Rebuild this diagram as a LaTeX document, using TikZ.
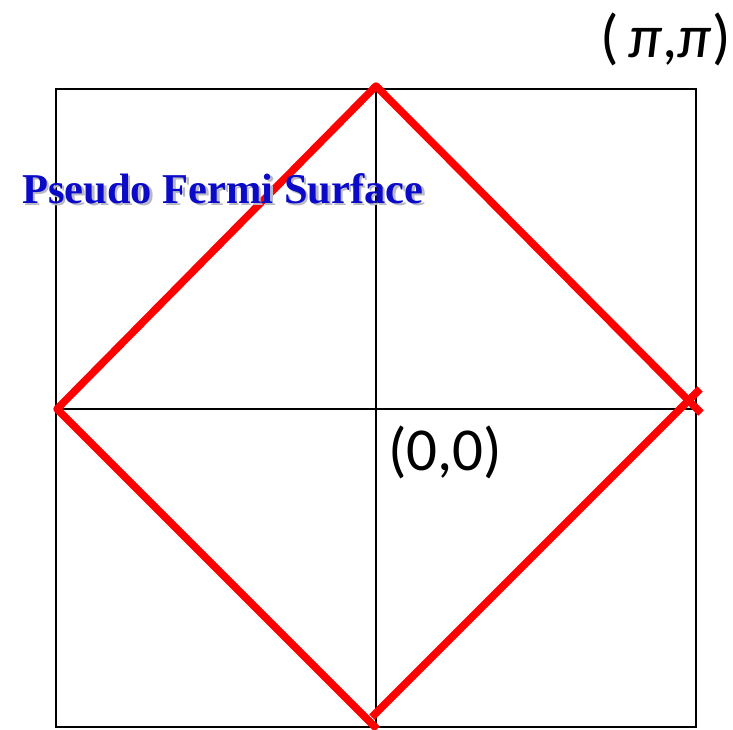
\documentclass[tikz,border=0pt]{standalone}
\usepackage{fontspec}
\setmainfont{Liberation Serif}
\newfontfamily\labelfont{Carlito}
\definecolor{fsblue}{RGB}{10,10,200}
\definecolor{fsred}{RGB}{255,0,0}
\definecolor{fsshadow}{RGB}{185,185,195}
\newcommand{\shadowtext}[1]{\rlap{\hspace{2.5pt}\raisebox{-2.5pt}{\textcolor{fsshadow}{#1}}}\textcolor{fsblue}{#1}}
\begin{document}
\begin{tikzpicture}[x=1pt,y=-1pt,
  axis/.style={black,line width=1.4pt},
  fermi/.style={fsred,line width=7.5pt,line join=round},
  coordlabel/.style={inner sep=0pt,anchor=base west,font=\labelfont\fontsize{61}{61}\selectfont},
  titletext/.style={inner sep=0pt,anchor=base west,font=\bfseries\fontsize{42.5}{42.5}\selectfont}]
\useasboundingbox (0,0) rectangle (733,729);
% square and axes
\coordinate (tl) at (56,89);
\coordinate (br) at (696,727);
\coordinate (xl) at (56,409);
\coordinate (xr) at (696,409);
\coordinate (yt) at (376,89);
\coordinate (yb) at (376,727);
\draw[axis] (tl) rectangle (br);
\draw[axis] (xl) -- (xr);
\draw[axis] (yt) -- (yb);
% fermi surface
\coordinate (ftop) at (376,86);
\coordinate (fleft) at (57,409);
\coordinate (fbot) at (377,729);
\coordinate (fre) at (701,413);
\coordinate (fbs) at (372,717);
\coordinate (fte) at (700,389);
\draw[fermi] (fre) -- (ftop) -- (fleft) -- (fbot);
\draw[fermi] (fbs) -- (fte);
% labels
\node[titletext] (title) at (22,203) {\shadowtext{Pseudo Fermi Surface}};
\node[coordlabel] (pipi) at (600,57) {(\,\textit{π},\textit{π})};
\node[coordlabel] (zero) at (388,470) {(0,0)};
\end{tikzpicture}
\end{document}
